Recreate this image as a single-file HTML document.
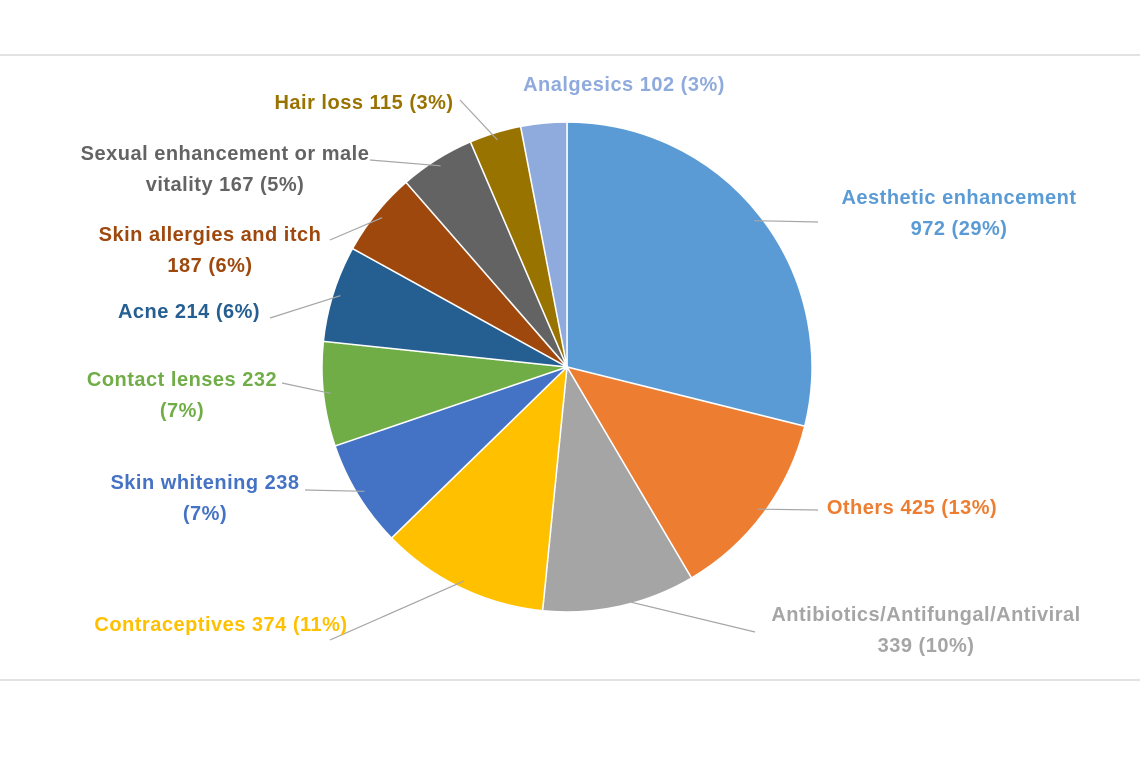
<!DOCTYPE html>
<html><head><meta charset="utf-8"><style>
html,body{margin:0;padding:0;background:#fff;}
svg{display:block;font-family:"Liberation Sans",sans-serif;font-weight:bold;font-size:20px;letter-spacing:0.5px;}
</style></head><body>
<svg id="chart" width="1140" height="760" viewBox="0 0 1140 760">
<rect x="-1" y="55" width="1142" height="625" fill="#fff" stroke="#d9d9d9" stroke-width="1.5"/>
<g id="slices"></g><g id="leaders"></g><g id="labels"></g>
</svg>
<script>
const categories=["Aesthetic enhancement","Others","Antibiotics/Antifungal/Antiviral","Contraceptives","Skin whitening","Contact lenses","Acne","Skin allergies and itch","Sexual enhancement or male vitality","Hair loss","Analgesics"];
const values=[972,425,339,374,238,232,214,187,167,115,102];
const percents=["29%","13%","10%","11%","7%","7%","6%","6%","5%","3%","3%"];
const colors=["#5b9bd5","#ed7d31","#a5a5a5","#ffc000","#4472c4","#70ad47","#255e91","#9e480e","#636363","#997300","#8faadc"];
const textColors=["#5b9bd5","#ed7d31","#a5a5a5","#ffc000","#4472c4","#70ad47","#255e91","#9e480e","#636363","#997300","#8faadc"];
const labelLines=[["Aesthetic enhancement","972 (29%)"],["Others 425 (13%)"],["Antibiotics/Antifungal/Antiviral","339 (10%)"],["Contraceptives 374 (11%)"],["Skin whitening 238","(7%)"],["Contact lenses 232","(7%)"],["Acne 214 (6%)"],["Skin allergies and itch","187 (6%)"],["Sexual enhancement or male","vitality 167 (5%)"],["Hair loss 115 (3%)"],["Analgesics 102 (3%)"]];
const labelPos=[[959,204],[912,514],[926,621],[221,631],[205,489],[182,386],[189,318],[210,241],[225,160],[364,109],[624,91]];
const leaderEnd=[[818,222],[818,510],[755,632],[330,640],[305,490],[282,383],[270,318],[330,240],[370,160],[460,100],null];
const cx=567,cy=367,r=245;
const NS="http://www.w3.org/2000/svg";
const total=values.reduce((a,b)=>a+b,0);
function pt(a,rr){return [cx+rr*Math.sin(a),cy-rr*Math.cos(a)];}
let acc=0;
const gS=document.getElementById('slices'),gL=document.getElementById('leaders'),gT=document.getElementById('labels');
values.forEach((v,i)=>{
  const a0=acc/total*2*Math.PI; acc+=v; const a1=acc/total*2*Math.PI;
  const p0=pt(a0,r),p1=pt(a1,r);
  const path=document.createElementNS(NS,'path');
  path.setAttribute('d',`M${cx},${cy}L${p0[0]},${p0[1]}A${r},${r} 0 ${a1-a0>Math.PI?1:0} 1 ${p1[0]},${p1[1]}Z`);
  path.setAttribute('fill',colors[i]);path.setAttribute('stroke','#fff');path.setAttribute('stroke-width','1.5');
  
  
  gS.appendChild(path);
  if(leaderEnd[i]){
    const m=pt((a0+a1)/2,r*0.97);
    const ln=document.createElementNS(NS,'polyline');
    ln.setAttribute('points',`${m[0]},${m[1]} ${leaderEnd[i][0]},${leaderEnd[i][1]}`);
    ln.setAttribute('fill','none');ln.setAttribute('stroke','#a6a6a6');ln.setAttribute('stroke-width','1.2');
    
    
    gL.appendChild(ln);
  }
  const t=document.createElementNS(NS,'text');
  t.setAttribute('text-anchor','middle');t.setAttribute('fill',textColors[i]);
  
  
  labelLines[i].forEach((s,k)=>{
    const ts=document.createElementNS(NS,'tspan');
    ts.setAttribute('x',labelPos[i][0]);ts.setAttribute('y',labelPos[i][1]+k*31);
    ts.textContent=s;t.appendChild(ts);
  });
  gT.appendChild(t);
});
</script>
</body></html>
